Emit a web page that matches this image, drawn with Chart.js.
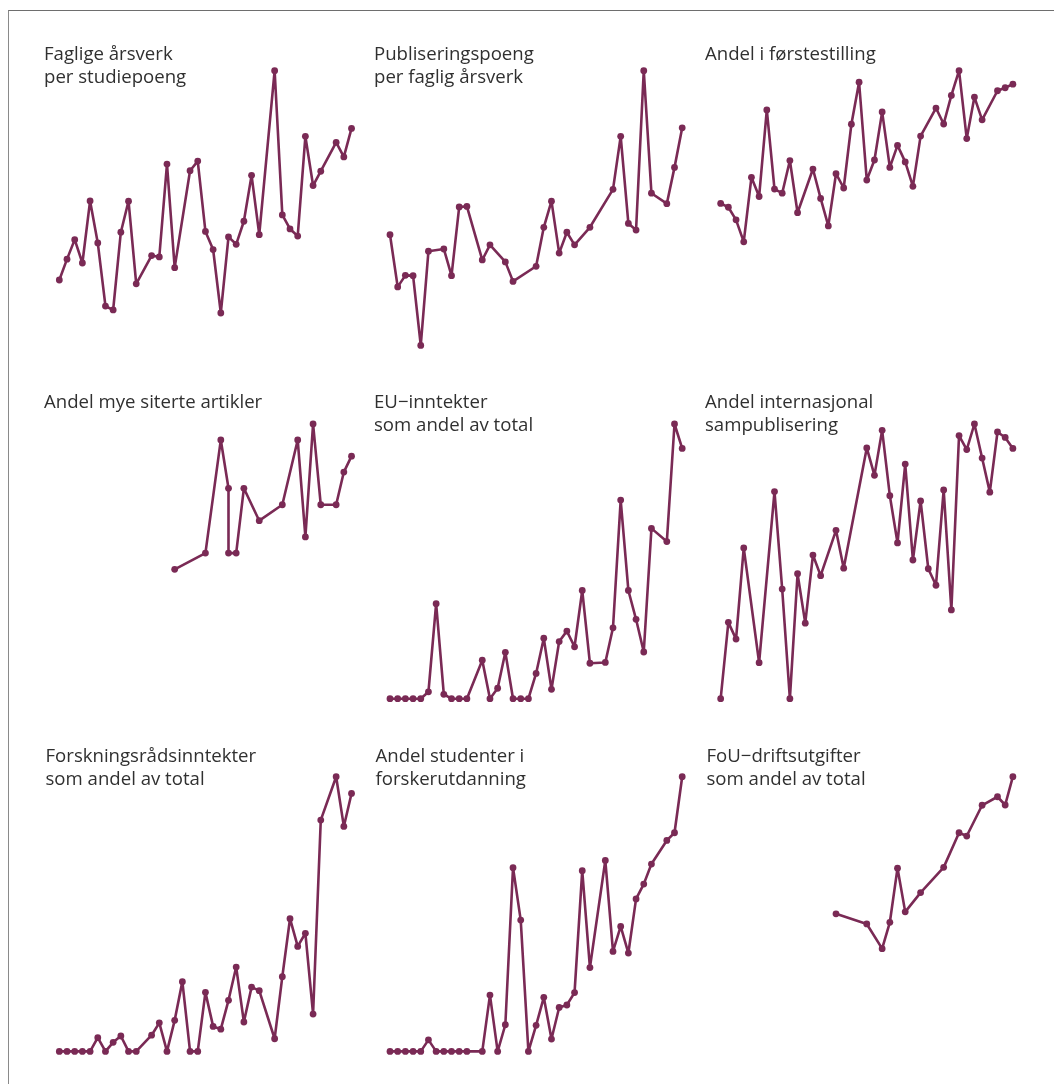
<!DOCTYPE html>
<html>
<head>
<meta charset="utf-8">
<script src="https://cdn.jsdelivr.net/npm/chart.js@4"></script>
<style>
  html, body { margin: 0; padding: 0; background: #ffffff; width: 1054px; height: 1084px; overflow: hidden; }
  .frame { position: absolute; left: 8px; top: 10px; width: 1100px; height: 1100px;
           border-top: 1px solid #6e6e6e; border-left: 1px solid #8a8a8a; box-sizing: border-box; }
  .title { position: absolute; font-family: "Open Sans", "Noto Sans", sans-serif; font-size: 18.6px;
           line-height: 23px; color: #303030; white-space: nowrap; }
  canvas { position: absolute; }
</style>
</head>
<body>
<div class="frame"></div>
<div id="root"></div>
<script>
// shared x positions (index along the horizontal axis)
const positions = [0,1,2,3,4,5,6,7,8,9,10,11,12,13,14,15,16,17,18,19,20,21,22,23,24,25,26,27,28,29,30,31,32,33,34,35,36,37,38];

// panel titles
const titles = [
  ["Faglige årsverk", "per studiepoeng"],
  ["Publiseringspoeng", "per faglig årsverk"],
  ["Andel i førstestilling"],
  ["Andel mye siterte artikler"],
  ["EU\u2212inntekter", "som andel av total"],
  ["Andel internasjonal", "sampublisering"],
  ["Forskningsrådsinntekter", "som andel av total"],
  ["Andel studenter i", "forskerutdanning"],
  ["FoU\u2212driftsutgifter", "som andel av total"]
];

// series values (index, 0-100 relative to each panel's maximum)
const fagligeArsverk = [23.8,31.4,38.5,30.0,52.6,37.3,14.3,12.9,41.2,52.5,22.4,null,32.7,32.2,66.0,28.3,null,63.6,67.1,41.5,34.9,11.8,39.5,36.8,45.2,61.9,40.3,null,100,47.5,42.4,39.8,76.1,58.2,63.4,null,73.9,68.6,79.0];
const publiseringspoeng = [40.3,21.3,25.5,25.4,0,34.3,null,35.1,25.4,50.4,50.6,null,31.1,36.6,null,30.4,23.3,null,null,28.8,43.0,52.5,33.6,41.2,36.6,null,43.0,null,null,56.8,76.1,44.4,42.0,100,55.4,null,51.6,64.8,79.2];
const forstestilling = [51.7,50.3,45.7,37.7,61.2,54.2,85.7,56.9,55.4,67.3,48.3,null,64.2,53.5,43.5,62.5,57.3,80.5,95.8,60.2,67.5,85.0,64.8,72.8,66.8,57.9,76.2,null,86.4,80.6,91.0,100,75.3,90.4,82.1,null,92.7,93.8,95.1];
const sitertePositions = [15,19,21,22,22,23,24,26,29,31,32,33,34,36,37,38];
const siterteArtikler = [47.1,53.0,94.2,76.6,53.0,53.0,76.6,64.8,70.6,94.2,58.9,100,70.6,70.6,82.5,88.3];
const euInntekter = [0,0,0,0,0,2.5,34.6,1.6,0,0,0,null,14.0,0,3.8,16.9,0,0,0,9.2,22.0,3.4,20.8,24.6,18.9,39.4,12.9,null,13.2,25.8,72.3,39.4,28.9,17.0,62.0,null,57.2,100,91.1];
const internasjonal = [0,27.8,21.7,54.9,null,13.1,null,75.4,39.9,0,45.5,27.5,52.3,44.8,null,61.3,47.5,null,null,91.3,81.3,97.7,73.9,56.7,85.4,50.5,72.0,47.3,41.3,76.0,32.3,95.8,90.7,100,87.6,75.2,97.1,95.1,91.1];
const forskningsrad = [0,0,0,0,0,5.0,0,3.3,5.6,0,0,null,5.9,10.4,0,11.3,25.4,0,0,21.5,9.1,8.1,18.6,30.7,10.7,23.4,22.1,null,4.6,27.2,48.3,38.2,43.0,13.6,84.2,null,100,81.9,93.9];
const forskerutdanning = [0,0,0,0,0,4.2,0,0,0,0,0,null,0,20.5,0,9.7,66.9,47.8,0,9.5,19.7,4.5,16.0,16.9,21.4,65.8,30.5,null,69.5,36.4,45.5,35.8,55.5,60.9,68.2,null,76.8,79.6,100];
const fouDrift = [null,null,null,null,null,null,null,null,null,null,null,null,null,null,null,50.1,null,null,null,46.4,null,37.4,47.0,66.7,50.8,null,57.8,null,null,67.0,null,79.6,78.4,null,89.6,null,92.7,89.7,100];

const panels = [
  [positions, fagligeArsverk],
  [positions, publiseringspoeng],
  [positions, forstestilling],
  [sitertePositions, siterteArtikler],
  [positions, euInntekter],
  [positions, internasjonal],
  [positions, forskningsrad],
  [positions, forskerutdanning],
  [positions, fouDrift]
];

// layout
const colLeft = [59.33, 390.0, 720.67];
const rowTop = [70.7, 424.0, 776.7];
const areaW = 292.2, areaH = 274.7;
const titleLeft = [44, 374, 705];
const titleBase = [59.3, 407.7, 761.7];
const titleShift = [0, 0, 1.5];
const lineColor = "#7a2a55";

const root = document.getElementById("root");
panels.forEach(function (p, k) {
  const r = Math.floor(k / 3), c = k % 3;
  const cLeft = Math.floor(colLeft[c]) - 12;
  const cTop = Math.floor(rowTop[r]) - 12;
  const cW = 320, cH = 300;
  const padL = colLeft[c] - cLeft, padT = rowTop[r] - cTop;
  const cv = document.createElement("canvas");
  cv.width = cW; cv.height = cH;
  cv.style.left = cLeft + "px"; cv.style.top = cTop + "px";
  cv.style.width = cW + "px"; cv.style.height = cH + "px";
  root.appendChild(cv);

  const t = document.createElement("div");
  t.className = "title";
  t.style.left = (titleLeft[c] + titleShift[r]) + "px";
  t.style.top = (titleBase[r] - 18.7) + "px";
  t.innerHTML = titles[k].join("<br>");
  root.appendChild(t);

  const xs = p[0], ys = p[1];
  const pts = xs.map(function (x, i) { return { x: x, y: ys[i] }; })
                .filter(function (pt) { return pt.y !== null && pt.y !== undefined; });

  new Chart(cv, {
    type: "line",
    data: { datasets: [{
      data: pts,
      borderColor: lineColor,
      backgroundColor: lineColor,
      pointBackgroundColor: lineColor,
      pointBorderColor: lineColor,
      borderWidth: 2.6,
      pointRadius: 3.4,
      pointBorderWidth: 0,
      tension: 0,
      spanGaps: true,
      borderJoinStyle: "round",
      clip: false,
      fill: false
    }]},
    options: {
      responsive: false,
      maintainAspectRatio: false,
      animation: false,
      events: [],
      layout: { padding: { left: padL, top: padT, right: cW - padL - areaW, bottom: cH - padT - areaH } },
      plugins: { legend: { display: false }, tooltip: { enabled: false }, title: { display: false } },
      scales: {
        x: { type: "linear", min: 0, max: 38, display: false },
        y: { type: "linear", min: 0, max: 100, display: false }
      }
    }
  });
});
</script>
</body>
</html>
